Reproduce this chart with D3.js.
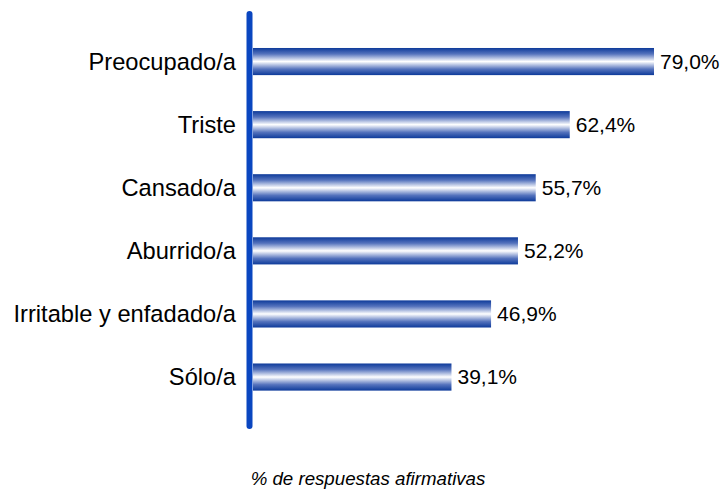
<!DOCTYPE html>
<html>
<head>
<meta charset="utf-8">
<script src="https://cdn.jsdelivr.net/npm/d3@7.9.0/dist/d3.min.js"></script>
<style>
  body { margin: 0; background: #fff; }
  svg { display: block; font-family: "Liberation Sans", Arial, sans-serif; }
</style>
</head>
<body>
<svg id="chart" width="726" height="491"></svg>
<script>
const categories = ["Preocupado/a", "Triste", "Cansado/a", "Aburrido/a", "Irritable y enfadado/a", "Sólo/a"];
const values = [79.0, 62.4, 55.7, 52.2, 46.9, 39.1];
const axisTitle = "% de respuestas afirmativas";

const svg = d3.select("#chart");

const x = d3.scaleLinear().domain([0, 100]).range([253, 760.6]);
const y = d3.scaleBand().domain(categories).range([30, 408.6])
  .paddingInner(0.57).paddingOuter(0.285);

// bar gradient: dark blue edges, white centre
const grad = svg.append("defs").append("linearGradient")
  .attr("id", "barGrad").attr("x1", 0).attr("y1", 0).attr("x2", 0).attr("y2", 1);
[[0, "#0d3a9a"], [0.22, "#5573bd"], [0.5, "#ffffff"], [0.78, "#5573bd"], [1, "#0d3a9a"]]
  .forEach(([o, c]) => grad.append("stop").attr("offset", o).attr("stop-color", c));

const fmt = v => v.toFixed(1).replace(".", ",") + "%";

const rows = svg.selectAll("g.row")
  .data(categories)
  .join("g")
  .attr("class", "row");

rows.append("rect")
  .attr("x", x(0))
  .attr("y", d => y(d))
  .attr("width", (d, i) => x(values[i]) - x(0))
  .attr("height", y.bandwidth())
  .attr("fill", "url(#barGrad)");

rows.append("text")
  .attr("x", (d, i) => x(values[i]) + 6)
  .attr("y", d => y(d) + y.bandwidth() / 2)
  .attr("dy", "0.35em")
  .attr("font-size", 21)
  .attr("fill", "#000")
  .text((d, i) => fmt(values[i]));

rows.append("text")
  .attr("x", 236)
  .attr("y", d => y(d) + y.bandwidth() / 2)
  .attr("dy", "0.35em")
  .attr("text-anchor", "end")
  .attr("font-size", 23.7)
  .attr("fill", "#000")
  .text(d => d);

// vertical axis line
svg.append("line")
  .attr("x1", 249.5).attr("x2", 249.5)
  .attr("y1", 14).attr("y2", 426)
  .attr("stroke", "#0a46c0")
  .attr("stroke-width", 6)
  .attr("stroke-linecap", "round");

svg.append("text")
  .attr("x", 368)
  .attr("y", 485)
  .attr("text-anchor", "middle")
  .attr("font-size", 18.7)
  .attr("font-style", "italic")
  .attr("fill", "#000")
  .text(axisTitle);
</script>
</body>
</html>
